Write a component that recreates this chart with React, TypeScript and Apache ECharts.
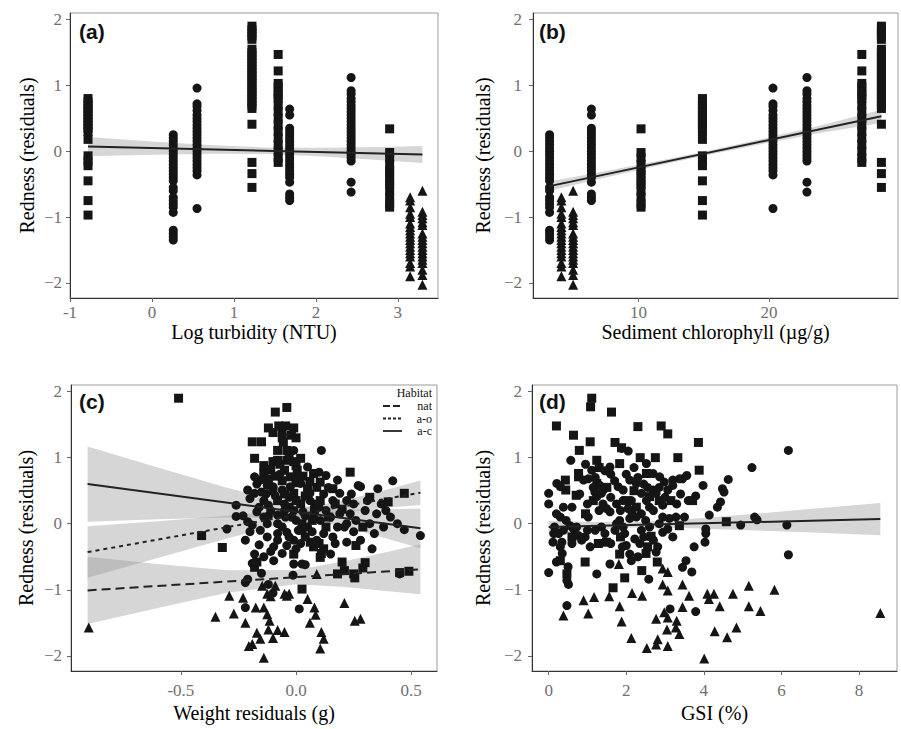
import React, { useEffect, useRef } from "react";
import * as echarts from "echarts";

// ---------- DATA ----------
// Sites (panels a, b): shape, log turbidity, sediment chlorophyll, redness residuals
const siteShape = ["rect", "circle", "circle", "rect", "rect", "circle", "circle", "rect", "triangle", "triangle"];
const siteTurbidity = [-0.78, 0.26, 0.55, 1.22, 1.54, 1.68, 2.43, 2.9, 3.15, 3.3];
const siteChlorophyll = [14.9, 3.2, 20.3, 28.6, 27.1, 6.4, 22.9, 10.2, 4.1, 5.0];
const siteRedness = [
  [0.8, 0.75, 0.7, 0.65, 0.6, 0.55, 0.5, 0.45, 0.4, 0.35, 0.3, 0.18, -0.07, -0.15, -0.22, -0.45, -0.75, -0.97],
  [0.25, 0.2, 0.15, 0.1, 0.05, 0, -0.05, -0.1, -0.15, -0.2, -0.25, -0.3, -0.35, -0.4, -0.45, -0.55, -0.6, -0.7, -0.75, -0.8, -0.85, -0.93, -1.2, -1.25, -1.3, -1.35],
  [0.96, 0.72, 0.68, 0.62, 0.55, 0.5, 0.45, 0.4, 0.35, 0.3, 0.25, 0.2, 0.15, 0.1, 0.05, 0, -0.05, -0.1, -0.15, -0.2, -0.25, -0.3, -0.36, -0.87],
  [1.9, 1.85, 1.8, 1.75, 1.7, 1.55, 1.5, 1.45, 1.4, 1.35, 1.3, 1.25, 1.2, 1.15, 1.1, 1.05, 1.0, 0.95, 0.9, 0.85, 0.8, 0.75, 0.7, 0.65, 0.41, -0.17, -0.34, -0.55],
  [1.47, 1.22, 1.03, 0.98, 0.9, 0.85, 0.8, 0.7, 0.6, 0.5, 0.4, 0.3, 0.2, 0.1, 0.0, -0.1, -0.17],
  [0.64, 0.55, 0.35, 0.3, 0.25, 0.2, 0.15, 0.1, 0.05, 0, -0.05, -0.1, -0.15, -0.2, -0.25, -0.3, -0.35, -0.4, -0.47, -0.65, -0.7, -0.75],
  [1.12, 0.92, 0.87, 0.8, 0.75, 0.7, 0.65, 0.6, 0.55, 0.5, 0.45, 0.4, 0.35, 0.3, 0.25, 0.2, 0.15, 0.1, 0.05, 0, -0.05, -0.1, -0.15, -0.47, -0.62],
  [0.34, -0.02, -0.1, -0.2, -0.3, -0.35, -0.45, -0.5, -0.6, -0.7, -0.8, -0.85],
  [-0.7, -0.75, -0.85, -0.95, -1.0, -1.1, -1.15, -1.2, -1.25, -1.3, -1.35, -1.4, -1.45, -1.5, -1.55, -1.6, -1.7, -1.75, -1.9],
  [-0.6, -0.92, -0.97, -1.02, -1.08, -1.12, -1.25, -1.3, -1.35, -1.4, -1.45, -1.5, -1.55, -1.6, -1.65, -1.7, -1.8, -1.88, -2.03],
];

// Panel a fit and band [x, lower, upper]
const fitA = [[-0.78, 0.07], [3.3, -0.05]];
const bandA = [[-0.78, -0.075, 0.215], [0, -0.054, 0.148], [0.75, -0.039, 0.089], [1.4, -0.044, 0.056], [2.1, -0.081, 0.051], [2.8, -0.136, 0.066], [3.3, -0.179, 0.079]];
// Panel b
const fitB = [[3.2, -0.53], [28.6, 0.53]];
const bandB = [[3.2, -0.6, -0.46], [7, -0.423, -0.319], [11, -0.241, -0.167], [15, -0.068, -0.008], [19, 0.092, 0.166], [24, 0.281, 0.395], [28.6, 0.43, 0.63]];

// Panel c: weight residuals vs redness
const cSquares = [
  [-0.51, 1.9], [-0.09, 1.69], [-0.04, 1.76], [-0.075, 1.48], [-0.045, 1.48], [-0.01, 1.45], [-0.1, 1.38], [-0.06, 1.39], [-0.02, 1.34], [-0.19, 1.24], [-0.15, 1.24], [-0.055, 1.24], [-0.08, 1.11], [-0.04, 1.11], [-0.18, 0.99], [-0.1, 0.94], [-0.08, 0.96], [-0.04, 0.96], [-0.01, 0.94], [0.02, 0.99], [-0.14, 0.76], [-0.125, 0.68], [-0.05, 0.81], [-0.025, 0.71], [0.005, 0.81], [0.076, 0.76], [0.105, 0.63], [0.235, 0.78], [0.16, 0.53], [0.05, 0.53], [-0.01, 0.46], [-0.08, 0.35], [0.02, 0.3], [0.105, 0.35], [0.47, 0.46], [0.4, 0.33], [-0.41, -0.18], [-0.32, -0.36], [0.026, 0.0], [0.026, -0.1], [0.062, -0.28], [0.076, -0.35], [-0.01, -0.46], [0.105, -0.51], [0.2, -0.58], [0.25, -0.76], [0.3, -0.59], [0.18, -0.76], [0.49, -0.72], [0.45, -0.74], [0.026, -0.99], [-0.17, -0.58], [-0.18, -0.66], [0.26, -0.33], [0.14, 0.1], [0.29, -0.05], [0.11, -0.45], [0.1, -0.3], [0.29, -0.67], [0.21, -0.71], [0.255, -0.82], [-0.12, 0.6], [-0.06, 0.65], [0.0, 0.62], [-0.1, 0.5], [0.04, 0.42], [0.08, 0.2], [-0.03, 0.25], [0.13, -0.05], [0.09, 0.55], [0.2, 0.22], [0.32, 0.4],
  [-0.11, 0.82], [-0.07, 0.9], [-0.03, 1.02], [0.0, 0.88], [0.03, 0.72], [-0.09, 0.72], [-0.14, 0.88], [0.06, 0.64], [0.0, 0.35], [-0.05, 0.45], [0.07, 0.05], [0.04, -0.2], [0.12, -0.38], [0.17, 0.3], [-0.06, 1.3], [-0.12, 1.45], [0.0, 1.3],
];
const cCircles = [
  [-0.01, 1.11], [0.11, 1.11], [0.05, 0.86], [0.42, 0.65], [0.355, 0.53], [0.28, 0.56], [0.18, 0.66], [0.13, 0.73], [0.1, 0.78], [-0.18, 0.71], [-0.155, 0.66], [-0.125, 0.58], [-0.21, 0.51], [-0.18, 0.46], [-0.15, 0.48], [-0.1, 0.56], [-0.06, 0.51], [-0.025, 0.56], [0.02, 0.61], [0.06, 0.46], [0.19, 0.46], [0.22, 0.35], [0.27, 0.58], [0.25, 0.3], [0.31, 0.35], [0.37, 0.3], [-0.26, 0.28], [-0.26, 0.11], [-0.3, -0.08], [-0.21, 0.03], [-0.17, 0.18], [-0.14, 0.1], [-0.11, 0.2], [-0.08, 0.13], [-0.046, 0.1], [-0.01, 0.2], [0.03, 0.18], [0.076, 0.1], [0.105, 0.05], [0.15, 0.1], [0.19, 0.15], [0.235, 0.15], [0.26, 0.05], [0.32, 0.0], [0.38, -0.05], [0.47, -0.09], [0.54, -0.18], [0.33, -0.38], [0.28, -0.25], [0.22, -0.28], [0.16, -0.2], [0.12, -0.15], [0.09, -0.25], [0.15, -0.46], [-0.08, 0.0], [-0.125, 0.0], [-0.155, -0.1], [-0.125, -0.2], [-0.08, -0.15], [-0.04, -0.13], [-0.01, -0.25], [-0.04, -0.33], [-0.097, -0.35], [-0.22, -0.25], [-0.18, -0.46], [-0.097, -0.56], [-0.01, -0.61], [0.026, -0.61], [0.04, -0.62], [-0.013, -0.78], [-0.21, -0.84], [-0.22, -0.89], [-0.22, -1.27], [0.014, -1.29], [0.45, -0.76], [0.21, -0.05], [-0.14, 0.35], [-0.05, 0.3], [-0.2, -0.12], [-0.06, -0.05], [0.0, 0.05], [0.05, -0.05], [-0.12, 0.28], [0.08, 0.3], [0.12, 0.45], [-0.03, 0.4], [0.41, 0.1], [0.35, 0.15], [0.44, 0.0], [-0.16, -0.32], [-0.11, -0.42], [-0.06, -0.45], [0.0, -0.38], [0.18, -0.05], [0.25, -0.12], [-0.19, -0.6], [-0.15, -0.75], [-0.1, -1.05], [-0.12, -0.92],
  [-0.17, 0.6], [-0.13, 0.45], [-0.09, 0.42], [-0.05, 0.2], [-0.02, 0.1], [0.01, -0.1], [0.04, 0.12], [0.07, -0.12], [0.1, 0.25], [0.13, 0.2], [0.16, 0.35], [-0.2, 0.38], [-0.16, 0.25], [-0.12, 0.12], [-0.08, -0.25], [-0.03, -0.2], [0.02, -0.3], [0.06, 0.35], [0.14, 0.55], [0.17, -0.3], [-0.19, -0.02], [-0.23, 0.12], [-0.14, -0.5], [-0.07, 0.75], [0.0, 0.7], [0.22, 0.0], [0.3, 0.2], [0.34, -0.15], [0.39, 0.2], [0.24, 0.45],
];
const cTriangles = [
  [-0.9, -1.57], [-0.35, -1.41], [-0.27, -1.36], [-0.29, -1.09], [-0.23, -1.12], [-0.22, -1.5], [-0.205, -1.85], [-0.19, -1.82], [-0.14, -2.03], [-0.17, -1.65], [-0.155, -1.74], [-0.115, -1.47], [-0.12, -1.6], [-0.08, -1.61], [-0.1, -1.73], [-0.05, -1.64], [-0.175, -1.27], [-0.14, -1.27], [-0.125, -1.37], [-0.147, -0.94], [-0.09, -0.94], [-0.125, -1.06], [-0.11, -1.1], [-0.05, -1.06], [-0.03, -1.06], [0.09, -0.76], [0.05, -1.14], [0.08, -1.27], [0.085, -1.38], [0.06, -1.5], [0.11, -1.64], [0.12, -1.74], [0.105, -1.89], [0.21, -1.2], [0.255, -1.47], [0.28, -1.44], [-0.04, -1.09],
];
// Panel c fits by habitat and bands [x, lower, upper]
const habitatNames = ["nat", "a-o", "a-c"];
const fitNat = [[-0.905, -1.01], [0.54, -0.69]];
const fitAO = [[-0.905, -0.43], [0.54, 0.47]];
const fitAC = [[-0.905, 0.6], [0.54, -0.07]];
const bandNat = [[-0.905, -1.52, -0.5], [-0.6, -1.275, -0.609], [-0.3, -1.046, -0.706], [0, -0.918, -0.702], [0.2, -0.956, -0.576], [0.4, -1.021, -0.423], [0.54, -1.069, -0.311]];
const bandAO = [[-0.905, -0.82, -0.04], [-0.6, -0.518, 0.038], [-0.3, -0.225, 0.119], [0, 0.046, 0.222], [0.2, 0.17, 0.346], [0.4, 0.244, 0.522], [0.54, 0.285, 0.655]];
const bandAC = [[-0.905, 0.03, 1.17], [-0.6, 0.066, 0.852], [-0.3, 0.094, 0.544], [0, 0.085, 0.275], [0.2, -0.039, 0.213], [0.4, -0.231, 0.219], [0.54, -0.372, 0.232]];

// Panel d: GSI vs redness
const dSquares = [
  [1.11, 1.9], [1.08, 1.77], [1.62, 1.69], [0.2, 1.48], [2.3, 1.47], [2.9, 1.48], [3.07, 1.36], [0.64, 1.34], [1.07, 1.24], [1.71, 1.23], [1.88, 1.15], [3.86, 1.23], [0.79, 1.11], [2.36, 1.0], [2.75, 1.0], [3.33, 1.0], [1.24, 0.96], [0.77, 0.76], [1.83, 0.91], [2.52, 0.76], [3.88, 0.81], [0.77, 0.71], [0.43, 0.66], [0.44, 0.51], [0.71, 0.43], [1.24, 0.61], [2.0, 0.35], [2.26, 0.25], [2.6, 0.41], [3.71, 0.35], [4.58, 0.03], [3.37, -0.03], [2.64, -0.19], [1.49, -0.28], [1.28, -0.3], [1.83, -0.46], [2.51, -0.45], [2.8, -0.58], [0.94, -0.58], [0.3, -0.56], [2.4, -0.71], [0.47, -0.76], [1.96, -0.82], [1.66, -0.97],
  [1.15, 0.35], [1.5, 0.55], [2.2, 0.5], [2.85, 0.35], [0.95, 0.15], [1.85, -0.2], [2.55, -0.35], [3.15, 0.35], [0.6, -0.2], [1.3, 0.85],
];
const dCircles = [
  [6.18, 1.11], [5.24, 0.85], [4.63, 0.67], [4.48, 0.53], [4.52, 0.48], [4.43, 0.33], [4.35, 0.25], [4.14, 0.13], [5.31, 0.1], [5.37, 0.06], [4.95, -0.02], [6.14, -0.02], [6.18, -0.47], [3.98, 0.58], [3.79, 0.42], [3.56, 0.73], [3.45, 0.68], [4.05, -0.08], [4.05, -0.15], [4.03, -0.28], [3.75, -0.35], [3.54, -0.56], [3.45, -0.66], [3.69, -0.73], [3.79, -1.33], [3.13, -1.29], [2.58, -0.84], [0.0, 0.46], [0.0, 0.3], [0.0, -0.74], [0.57, 0.96], [0.47, -1.24], [0.51, -0.92], [0.47, -0.86], [1.24, -0.76], [1.58, -0.61], [1.02, 0.1], [1.07, -0.35], [0.11, -0.28], [0.26, -0.15], [0.38, -0.1], [0.13, -0.15], [0.55, -0.03], [0.77, -0.18], [0.94, -0.2], [0.38, 0.25], [0.21, 0.61], [0.3, 0.56], [1.58, 0.86], [2.05, 1.1], [1.88, 1.14], [2.52, 0.91], [2.69, 0.76], [2.86, 0.71], [2.98, 0.63], [3.2, 0.66], [3.37, 0.68], [3.07, 0.51], [3.2, 0.58], [2.94, 0.28], [3.11, 0.08], [3.28, 0.1], [2.94, -0.13], [3.07, -0.08], [2.81, -0.35], [2.77, -0.43], [2.6, -0.05], [2.35, -0.3], [2.22, -0.23], [2.09, -0.46], [2.13, -0.56], [2.0, -0.33], [1.96, -0.15], [1.83, 0.05], [1.75, 0.0], [1.58, 0.18], [1.49, 0.23], [1.41, 0.51], [1.32, 0.58], [1.19, 0.48], [1.02, 0.68], [0.9, 0.66], [1.11, 0.81], [1.24, 0.41], [1.36, 0.46], [1.79, 0.56], [1.92, 0.51], [2.09, 0.66], [2.26, 0.61], [2.13, 0.35], [2.05, 0.23], [1.75, 0.3], [1.92, 0.35], [2.39, 0.46], [2.52, 0.35], [2.69, 0.51], [2.77, 0.46], [2.39, 0.15], [2.26, 0.1], [1.92, -0.05], [2.09, 0.08], [0.64, -0.08], [0.72, -0.05], [0.85, -0.25], [0.3, -0.35], [0.34, -0.28], [1.36, -0.05], [1.45, -0.15], [1.71, -0.1], [2.94, 0.1], [2.39, -0.1], [0.3, 0.1], [0.2, 0.15], [0.2, -0.58], [0.5, -0.65], [0.95, 0.9], [1.15, 0.55], [1.6, 0.75], [2.2, 0.85], [2.45, 0.6], [2.6, 0.25], [1.4, 0.3], [3.4, 0.45], [3.6, 0.35],
  [1.2, 0.7], [1.45, 0.8], [1.7, 0.65], [2.0, 0.75], [2.3, 0.7], [2.55, 0.55], [2.85, 0.55], [1.3, 0.2], [1.6, 0.4], [1.85, 0.2], [2.15, 0.15], [2.5, 0.05], [2.7, 0.2], [3.0, 0.4], [3.3, 0.3], [1.0, 0.3], [0.8, 0.45], [0.6, 0.25], [0.45, 0.05], [0.15, -0.05], [0.6, -0.3], [1.2, -0.1], [1.6, -0.3], [2.3, -0.5], [2.7, -0.25], [3.2, -0.2], [1.9, -0.35], [2.45, -0.2], [1.0, -0.1], [0.35, -0.45], [2.85, 0.0], [3.5, 0.1],
];
const dTriangles = [
  [8.55, -1.35], [5.82, -1.0], [5.16, -0.94], [5.16, -1.25], [5.46, -1.32], [4.75, -1.06], [4.84, -1.57], [4.6, -1.72], [4.28, -1.63], [4.26, -1.06], [4.09, -1.06], [4.13, -1.14], [4.41, -1.25], [4.01, -2.04], [3.62, -1.09], [3.45, -0.92], [3.45, -1.26], [3.37, -1.67], [3.28, -1.57], [3.3, -1.47], [3.07, -1.85], [3.07, -1.42], [3.05, -1.6], [3.07, -1.01], [3.07, -0.73], [2.94, -0.92], [2.94, -0.68], [2.77, -1.44], [2.81, -1.75], [2.77, -1.83], [2.98, -1.34], [2.53, -1.88], [2.41, -1.09], [2.15, -1.05], [2.13, -1.73], [1.88, -1.48], [1.83, -1.25], [1.81, -0.61], [1.56, -1.1], [1.17, -1.11], [0.9, -1.16], [1.02, -1.36], [0.38, -1.39],
];
const fitD = [[0, -0.05], [8.55, 0.07]];
const bandD = [[0, -0.143, 0.043], [1, -0.097, 0.025], [2.2, -0.059, 0.021], [3.5, -0.065, 0.063], [5, -0.094, 0.134], [6.8, -0.135, 0.225], [8.55, -0.175, 0.315]];

// Tick values
const yTicks = [-2, -1, 0, 1, 2];
const xTicksA = [-1, 0, 1, 2, 3];
const xTicksB = [10, 20];
const xTicksC = [-0.5, 0, 0.5];
const xTicksD = [0, 2, 4, 6, 8];
const panelLabels = ["(a)", "(b)", "(c)", "(d)"];
const xTitles = ["Log turbidity (NTU)", "Sediment chlorophyll (\u00b5g/g)", "Weight residuals (g)", "GSI (%)"];
const yTitle = "Redness (residuals)";

// ---------- CHART ----------
const SERIF = '"Liberation Serif", "DejaVu Serif", serif';
const SANS = '"Liberation Sans", Arial, sans-serif';
const INK = "#151515";
const BAND = "rgba(153,153,153,0.4)";
const symSize: Record<string, number> = { rect: 9, circle: 9, triangle: 10 };

function minusFmt(v: number) {
  return v < 0 ? "\u2212" + Math.abs(v) : String(v);
}

function xAxis(gi: number, min: number, max: number, ticks: number[], name: string, nameGap: number, margin: number, fmt?: (v: number) => string) {
  return {
    type: "value", gridIndex: gi, min, max, name, nameLocation: "middle", nameGap,
    nameTextStyle: { fontFamily: SERIF, fontSize: 20, color: "#000" },
    axisLine: { show: true, onZero: false, lineStyle: { color: "#333", width: 1 } },
    axisTick: { show: true, length: 4, lineStyle: { color: "#666" }, customValues: ticks },
    axisLabel: { customValues: ticks, margin, color: "#6f6f6f", fontFamily: SERIF, fontSize: 17, formatter: fmt || ((v: number) => String(v)) },
    splitLine: { show: false },
  };
}
function yAxis(gi: number, nameGap: number, margin: number) {
  return {
    type: "value", gridIndex: gi, min: -2.23, max: 2.1, name: yTitle, nameLocation: "middle", nameGap,
    nameTextStyle: { fontFamily: SERIF, fontSize: 20, color: "#000" },
    axisLine: { show: true, onZero: false, lineStyle: { color: "#333", width: 1 } },
    axisTick: { show: true, length: 4, lineStyle: { color: "#666" }, customValues: yTicks },
    axisLabel: { customValues: yTicks, margin, color: "#6f6f6f", fontFamily: SERIF, fontSize: 17, formatter: minusFmt },
    splitLine: { show: false },
  };
}
function scatter(ai: number, symbol: string, data: number[][]) {
  return { type: "scatter", xAxisIndex: ai, yAxisIndex: ai, symbol, symbolSize: symSize[symbol], itemStyle: { color: INK, opacity: 1 }, data, z: 3, silent: true };
}
function band(ai: number, pts: number[][]) {
  return {
    type: "custom", xAxisIndex: ai, yAxisIndex: ai, data: pts, encode: { x: 0, y: [1, 2] }, z: 2, silent: true, clip: true,
    renderItem: (params: any, api: any) => {
      if (params.dataIndex !== 0) return { type: "group", children: [] };
      const top = pts.map((p) => api.coord([p[0], p[2]]));
      const bot = pts.map((p) => api.coord([p[0], p[1]])).reverse();
      return { type: "polygon", shape: { points: top.concat(bot) }, style: { fill: BAND } };
    },
  };
}
function fit(ai: number, data: number[][], dash: any) {
  return { type: "line", xAxisIndex: ai, yAxisIndex: ai, data, symbol: "none", lineStyle: { color: "#222", width: 2, type: dash }, z: 4, silent: true };
}
function siteSeries(ai: number, xs: number[], shape: string) {
  const pts: number[][] = [];
  siteShape.forEach((s, i) => {
    if (s === shape) siteRedness[i].forEach((r) => pts.push([xs[i], r]));
  });
  return scatter(ai, shape, pts);
}

export default function App() {
  const ref = useRef<HTMLDivElement>(null);
  useEffect(() => {
    document.body.style.margin = "0";
    const chart = echarts.init(ref.current!, null, { renderer: "svg" });
    const grids = [
      { left: 70, top: 13, width: 368, height: 285 },
      { left: 533, top: 13, width: 365, height: 285 },
      { left: 71, top: 385, width: 366, height: 286 },
      { left: 532, top: 385, width: 365, height: 286 },
    ].map((g) => ({ ...g, show: true, borderColor: "#9a9a9a", borderWidth: 1, backgroundColor: "transparent" }));

    const legendX0 = 383, legendX1 = 402, legendTextX = 432;
    const legendRows = [406, 418.5, 431];
    const dashes: any[] = [[7, 3], [3, 2], "solid"];
    const graphic: any[] = [];
    const labelPos = [[79, 21], [539, 21], [79, 391], [539, 391]];
    panelLabels.forEach((t, i) => {
      graphic.push({ type: "text", left: labelPos[i][0], top: labelPos[i][1], style: { text: t, font: `bold 21px ${SANS}`, fill: "#111" }, z: 10 });
    });
    const legendFont = `12px ${SERIF}`;
    graphic.push({ type: "text", x: legendTextX, y: 393, style: { text: "Habitat", font: legendFont, lineHeight: 12, fill: "#111", textAlign: "right", textVerticalAlign: "middle" }, z: 10 });
    habitatNames.forEach((n, i) => {
      graphic.push({ type: "line", shape: { x1: legendX0, y1: legendRows[i], x2: legendX1, y2: legendRows[i] }, style: { stroke: "#222", lineWidth: 1.8, lineDash: dashes[i] === "solid" ? null : dashes[i] }, z: 10 });
      graphic.push({ type: "text", x: legendTextX, y: legendRows[i], style: { text: n, font: legendFont, lineHeight: 12, fill: "#111", textAlign: "right", textVerticalAlign: "middle" }, z: 10 });
    });

    const option: any = {
      animation: false,
      grid: grids,
      xAxis: [
        xAxis(0, -1.0, 3.49, xTicksA, xTitles[0], 19, 6),
        xAxis(1, 1.93, 29.87, xTicksB, xTitles[1], 19, 6),
        xAxis(2, -0.977, 0.612, xTicksC, xTitles[2], 32, 11, (v: number) => v.toFixed(1)),
        xAxis(3, -0.43, 8.98, xTicksD, xTitles[3], 32, 11),
      ],
      yAxis: [yAxis(0, 33, 8), yAxis(1, 40, 11), yAxis(2, 35, 9), yAxis(3, 39, 10)],
      graphic,
      series: [
        band(0, bandA),
        siteSeries(0, siteTurbidity, "rect"),
        siteSeries(0, siteTurbidity, "circle"),
        siteSeries(0, siteTurbidity, "triangle"),
        fit(0, fitA, "solid"),
        band(1, bandB),
        siteSeries(1, siteChlorophyll, "rect"),
        siteSeries(1, siteChlorophyll, "circle"),
        siteSeries(1, siteChlorophyll, "triangle"),
        fit(1, fitB, "solid"),
        band(2, bandNat),
        band(2, bandAO),
        band(2, bandAC),
        scatter(2, "rect", cSquares),
        scatter(2, "circle", cCircles),
        scatter(2, "triangle", cTriangles),
        fit(2, fitNat, [9, 5]),
        fit(2, fitAO, [4, 4]),
        fit(2, fitAC, "solid"),
        band(3, bandD),
        scatter(3, "rect", dSquares),
        scatter(3, "circle", dCircles),
        scatter(3, "triangle", dTriangles),
        fit(3, fitD, "solid"),
      ],
    };
    chart.setOption(option);
    return () => chart.dispose();
  }, []);
  return <div ref={ref} style={{ width: 901, height: 729 }} />;
}
